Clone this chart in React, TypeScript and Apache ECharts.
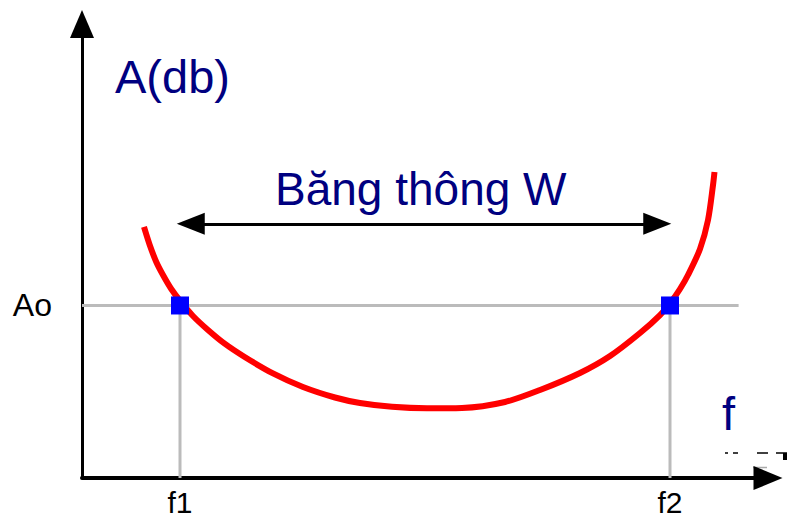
import React, { useEffect, useRef } from 'react';
import * as echarts from 'echarts';

// Response curve A(f) (x: frequency units, y: dB units)
const curveX = [12.65, 13.82, 15.16, 16.53, 18.22, 20.2, 22.65, 25.71, 29.12, 33.2, 38.98, 45.1, 51.63, 56.73, 63.27, 70.41, 77.55, 86.33, 93.47, 101.63, 107.76, 113.88, 117.96, 120.2, 122.04, 123.67, 126.12, 127.76, 128.78, 129.08];
const curveY = [55.29, 51.32, 47.58, 44.71, 41.63, 38.77, 35.68, 32.6, 29.58, 26.65, 23.04, 20.04, 17.73, 16.52, 15.68, 15.35, 15.42, 16.74, 19.38, 23.13, 26.87, 31.94, 35.9, 38.77, 41.63, 44.71, 50.44, 56.83, 64.54, 67.4];

// Cut-off frequencies and reference level
const cutoffs = [20, 120];
const aoLevel = 38;
const guideEndX = 134;

// Bandwidth arrow
const bandY = 56;
const bandFrom = 22.2;
const bandTo = 117.4;

// Tick labels
const xTickValues = [20, 120];
const xTickNames = ['f1', 'f2'];
const yTickValues = [38];
const yTickNames = ['Ao'];

const FONT = 'Liberation Sans, Arial, sans-serif';
const NAVY = '#000080';

export default function App() {
  const ref = useRef<HTMLDivElement>(null);
  useEffect(() => {
    const chart = echarts.init(ref.current!, null, { renderer: 'svg' });
    const curve = curveX.map((x, i) => [x, curveY[i]]);
    chart.setOption({
      animation: false,
      grid: { left: 82, right: 20, top: 24, bottom: 41, containLabel: false, outerBoundsMode: 'none' },
      xAxis: {
        type: 'value',
        min: 0,
        max: 140,
        interval: 20,
        splitLine: { show: false },
        axisTick: { show: false },
        axisLine: {
          show: true,
          symbol: ['none', 'triangle'],
          symbolSize: [24, 29],
          lineStyle: { color: '#000', width: 4 },
        },
        axisLabel: {
          show: true,
          margin: 9,
          fontSize: 30,
          lineHeight: 30,
          color: '#000',
          fontFamily: FONT,
          formatter: (v: number) => {
            const i = xTickValues.indexOf(v);
            return i >= 0 ? xTickNames[i] : '';
          },
        },
      },
      yAxis: {
        type: 'value',
        min: 0,
        max: 100,
        interval: 38,
        splitLine: { show: false },
        axisTick: { show: false },
        axisLine: {
          show: true,
          symbol: ['none', 'triangle'],
          symbolSize: [24, 28],
          lineStyle: { color: '#000', width: 3 },
        },
        axisLabel: {
          show: true,
          margin: 30,
          fontSize: 32,
          color: '#000',
          fontFamily: FONT,
          padding: [0, 0, 4, 0],
          formatter: (v: number) => {
            const i = yTickValues.indexOf(v);
            return i >= 0 ? yTickNames[i] : '';
          },
        },
      },
      series: [
        {
          type: 'line',
          data: [[0, aoLevel], [guideEndX, aoLevel]],
          showSymbol: false,
          lineStyle: { color: '#bbbbbb', width: 3 },
          z: 1,
        },
        ...cutoffs.map((f) => ({
          type: 'line',
          data: [[f, 0], [f, aoLevel]],
          showSymbol: false,
          lineStyle: { color: '#bbbbbb', width: 3 },
          z: 1,
        })),
        {
          type: 'line',
          data: curve,
          smooth: 0.3,
          showSymbol: false,
          lineStyle: { color: '#ff0000', width: 6 },
          z: 3,
        },
        {
          type: 'scatter',
          data: cutoffs.map((f) => [f, aoLevel]),
          symbol: 'rect',
          symbolSize: 18,
          itemStyle: { color: '#0000ff', opacity: 1 },
          z: 5,
        },
        {
          type: 'line',
          data: [],
          z: 4,
          markLine: {
            silent: true,
            symbol: ['triangle', 'triangle'],
            symbolSize: [22, 28],
            lineStyle: { color: '#000', width: 3, type: 'solid' },
            label: { show: false },
            data: [[{ coord: [bandFrom, bandY] }, { coord: [bandTo, bandY] }]],
          },
        },
      ],
      graphic: [
        {
          type: 'text',
          x: 115,
          y: 76.5,
          style: { text: 'A(db)', fontSize: 47, fontFamily: FONT, fill: NAVY, verticalAlign: 'middle', align: 'left' },
        },
        {
          type: 'text',
          x: 275,
          y: 189,
          style: { text: 'Băng thông W', fontSize: 46, fontFamily: FONT, fill: NAVY, verticalAlign: 'middle', align: 'left' },
        },
        {
          type: 'text',
          x: 722,
          y: 413.5,
          style: { text: 'f', fontSize: 47, fontFamily: FONT, fill: NAVY, verticalAlign: 'middle', align: 'left' },
        },
        { type: 'line', shape: { x1: 725, y1: 453, x2: 728, y2: 453 }, style: { stroke: '#000', lineWidth: 1.5 } },
        { type: 'line', shape: { x1: 733, y1: 453, x2: 738, y2: 453 }, style: { stroke: '#000', lineWidth: 1.5 } },
        { type: 'line', shape: { x1: 757, y1: 453, x2: 768, y2: 453 }, style: { stroke: '#000', lineWidth: 1.5 } },
        { type: 'line', shape: { x1: 776, y1: 453, x2: 787, y2: 453 }, style: { stroke: '#000', lineWidth: 1.5 } },
        { type: 'rect', shape: { x: 783, y: 453, width: 4, height: 7 }, style: { fill: '#000' } },
        { type: 'line', shape: { x1: 753, y1: 467.5, x2: 767, y2: 467.5 }, style: { stroke: '#aaaaaa', lineWidth: 1.5 } },
      ],
    });
    return () => chart.dispose();
  }, []);
  return <div ref={ref} style={{ position: 'absolute', left: 0, top: 0, width: 788, height: 519 }} />;
}
